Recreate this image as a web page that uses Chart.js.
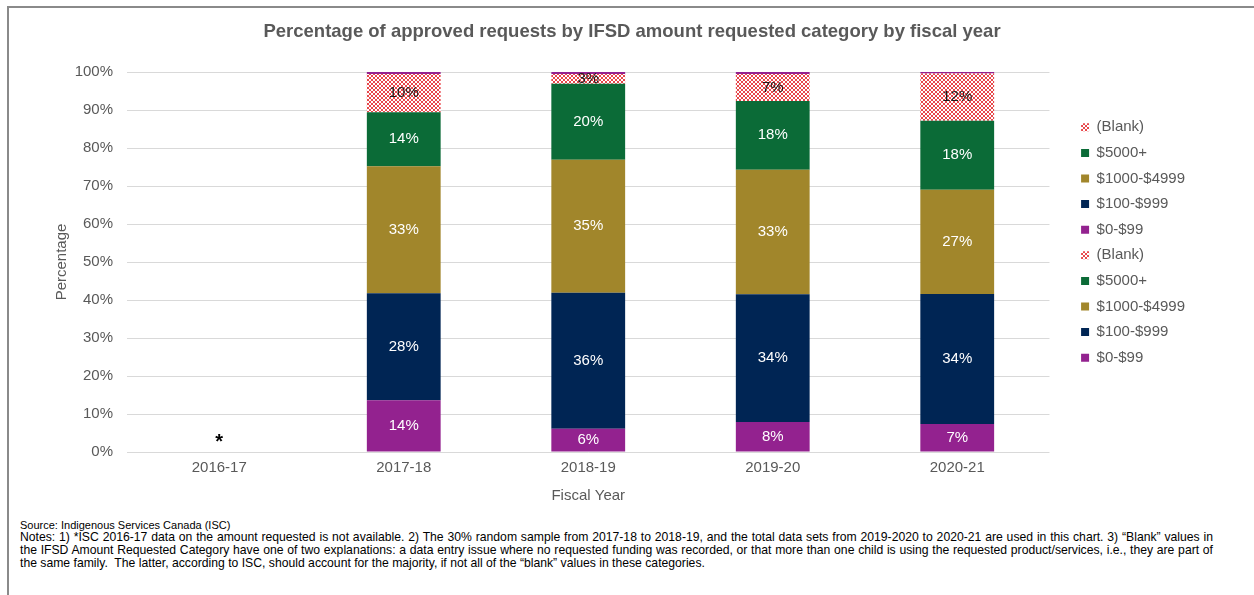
<!DOCTYPE html>
<html>
<head>
<meta charset="utf-8">
<title>Approved requests by IFSD amount requested category</title>
<script src="https://cdn.jsdelivr.net/npm/chart.js@4.4.1/dist/chart.umd.min.js"></script>
<style>
  html, body { margin: 0; padding: 0; background: #fff; }
  body { width: 1254px; height: 595px; position: relative; overflow: hidden;
         font-family: 'Liberation Sans', Arial, sans-serif; }
  .frame { position: absolute; left: 7px; top: 6px; right: -10px; bottom: -10px;
           border-top: 2px solid #8a8a8a; border-left: 2px solid #8a8a8a; }
  #chart { position: absolute; left: 0; top: 0; }
  .notes { position: absolute; left: 20px; top: 518.5px; width: 1193px; font-size: 12.2px;
           line-height: 12.8px; color: #000; }
  .notes div { white-space: nowrap; }
  .notes .src { font-size: 11px; }
  .notes .fill { text-align: justify; text-align-last: justify; white-space: normal; }
</style>
</head>
<body>
<div class="frame"></div>
<canvas id="chart" width="1254" height="515"></canvas>
<div class="notes">
  <div class="src">Source: Indigenous Services Canada (ISC)</div>
  <div class="fill">Notes: 1) *ISC 2016-17 data on the amount requested is not available. 2) The 30% random sample from 2017-18 to 2018-19, and the total data sets from 2019-2020 to 2020-21 are used in this chart. 3) “Blank” values in</div>
  <div class="fill">the IFSD Amount Requested Category have one of two explanations: a data entry issue where no requested funding was recorded, or that more than one child is using the requested product/services, i.e., they are part of</div>
  <div>the same family.&nbsp; The latter, according to ISC, should account for the majority, if not all of the “blank” values in these categories.</div>
</div>
<script>
const FONT = "'Liberation Sans', Arial, sans-serif";

const fiscalYears = ['2016-17', '2017-18', '2018-19', '2019-20', '2020-21'];
// no amount data for 2016-17, marked with an asterisk instead
const yearMarks = ['*', '', '', '', ''];

// percent of approved requests, first category group
const pct0to99 = [null, 13.6, 6.1, 7.9, 7.4];
const pct100to999 = [null, 28.2, 35.8, 33.6, 34.2];
const pct1000to4999 = [null, 33.4, 35.0, 32.8, 27.4];
const pct5000plus = [null, 14.2, 20.0, 18.1, 18.2];
const pctBlank = [null, 10.1, 2.6, 7.1, 12.4];

// second category group (only the $0-$99 sliver shows on top)
const pct0to99B = [null, 0.5, 0.5, 0.5, 0.4];
const pct100to999B = [null, 0, 0, 0, 0];
const pct1000to4999B = [null, 0, 0, 0, 0];
const pct5000plusB = [null, 0, 0, 0, 0];
const pctBlankB = [null, 0, 0, 0, 0];

const PURPLE = '#93228f';
const NAVY = '#002554';
const GOLD = '#a1862b';
const GREEN = '#0b6b37';

function blankPattern() {
  const c = document.createElement('canvas');
  c.width = 4; c.height = 4;
  const g = c.getContext('2d');
  g.fillStyle = '#fff';
  g.fillRect(0, 0, 4, 4);
  g.fillStyle = '#e8474b';
  for (let i = 0; i < 4; i++) {
    g.fillRect(i, i, 1, 1);
    g.fillRect(3 - i, i, 1, 1);
  }
  return g.createPattern(c, 'repeat');
}
const BLANK = blankPattern();

function series(label, data, color, labelColor) {
  return {
    label, data,
    backgroundColor: color,
    borderWidth: 0,
    barPercentage: 0.4,
    categoryPercentage: 1,
    showValues: !!labelColor,
    labelColor
  };
}

// value labels inside each segment, plus the asterisk for missing years
const segmentLabels = {
  id: 'segmentLabels',
  afterDatasetsDraw(chart) {
    const ctx = chart.ctx;
    ctx.save();
    ctx.font = '15px ' + FONT;
    ctx.textAlign = 'center';
    ctx.textBaseline = 'middle';
    chart.data.datasets.forEach((ds, di) => {
      if (!ds.showValues) return;
      chart.getDatasetMeta(di).data.forEach((bar, i) => {
        const v = ds.data[i];
        if (v == null) return;
        ctx.fillStyle = ds.labelColor;
        ctx.fillText(Math.round(v) + '%', bar.x, (bar.y + bar.base) / 2);
      });
    });
    const xs = chart.scales.x, ys = chart.scales.y;
    ctx.font = 'bold 20px ' + FONT;
    ctx.fillStyle = '#000';
    yearMarks.forEach((m, i) => {
      if (m) ctx.fillText(m, xs.getPixelForValue(i), ys.getPixelForValue(2.5));
    });
    ctx.restore();
  }
};

// move the legend next to the plot and centre the title on the whole frame
const boxNudge = {
  id: 'boxNudge',
  afterLayout(chart) {
    const lg = chart.legend;
    lg.left += 21; lg.right += 21;
    lg.top -= 12; lg.bottom -= 12;
    const tb = chart.titleBlock;
    tb.left += 40; tb.right += 40;
  }
};

Chart.defaults.font.family = FONT;

new Chart(document.getElementById('chart'), {
  type: 'bar',
  data: {
    labels: fiscalYears,
    datasets: [
      series('$0-$99', pct0to99, PURPLE, '#fff'),
      series('$100-$999', pct100to999, NAVY, '#fff'),
      series('$1000-$4999', pct1000to4999, GOLD, '#fff'),
      series('$5000+', pct5000plus, GREEN, '#fff'),
      series('(Blank)', pctBlank, BLANK, '#1a1a1a'),
      series('$0-$99', pct0to99B, PURPLE),
      series('$100-$999', pct100to999B, NAVY),
      series('$1000-$4999', pct1000to4999B, GOLD),
      series('$5000+', pct5000plusB, GREEN),
      series('(Blank)', pctBlankB, BLANK)
    ]
  },
  options: {
    responsive: false,
    animation: false,
    layout: { padding: { left: 10, right: 80, top: 0, bottom: 6 } },
    scales: {
      x: {
        stacked: true,
        grid: { display: false, drawTicks: false },
        border: { display: false },
        ticks: { color: '#595959', font: { size: 15 }, padding: 7 },
        title: { display: true, text: 'Fiscal Year', color: '#595959',
                 font: { size: 15 }, padding: { top: 10, bottom: 4 } },
        afterFit: s => { s.height = 57; }
      },
      y: {
        stacked: true,
        min: 0,
        max: 100,
        grid: { color: '#d9d9d9', drawTicks: false },
        border: { display: false },
        ticks: { stepSize: 10, color: '#595959', font: { size: 15 }, padding: 14,
                 callback: v => v + '%' },
        title: { display: true, text: 'Percentage', color: '#595959',
                 font: { size: 15 }, padding: { top: 43, bottom: 4 } },
        afterFit: s => { s.width = 117; }
      }
    },
    plugins: {
      title: {
        display: true,
        text: 'Percentage of approved requests by IFSD amount requested category by fiscal year',
        color: '#595959',
        font: { size: 18.5, weight: 'bold' },
        padding: { top: 21, bottom: 28.8 }
      },
      legend: {
        position: 'right',
        reverse: true,
        labels: { color: '#595959', font: { size: 15 }, boxWidth: 8, boxHeight: 8, padding: 10.6 }
      },
      tooltip: { enabled: false }
    }
  },
  plugins: [segmentLabels, boxNudge]
});
</script>
</body>
</html>
